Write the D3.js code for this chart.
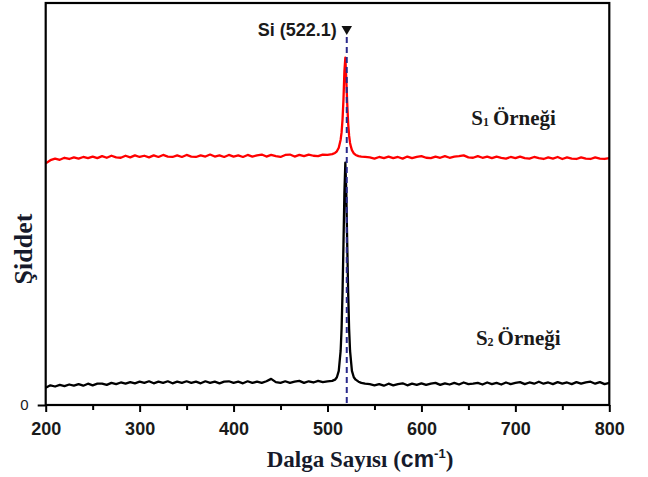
<!DOCTYPE html>
<html>
<head>
<meta charset="utf-8">
<script src="https://cdn.jsdelivr.net/npm/d3@7"></script>
<style>
  body { margin: 0; background: #fff; }
  svg { display: block; }
  .tick text { font-family: "Liberation Sans", Arial, sans-serif; font-weight: bold; font-size: 18px; fill: #1a1a1a; }
</style>
</head>
<body>
<div id="chart"></div>
<script>
'use strict';

// Raman shift (cm-1) sample positions
var wavenumbers = [
    200, 205, 210, 215, 220, 225, 230, 235, 240, 245, 250, 255, 260, 265, 270, 275, 280, 285, 290, 295,
    300, 305, 310, 315, 320, 325, 330, 335, 340, 345, 350, 355, 360, 365, 370, 375, 380, 385, 390, 395,
    400, 405, 410, 415, 420, 425, 430, 435, 440, 445, 450, 455, 460, 465, 470, 475, 480, 485, 490, 495, 500,
    505, 508, 510, 512, 514, 515, 516, 517, 518, 519, 520, 521, 522, 523, 524, 525, 526, 528, 530, 533, 536, 540,
    545, 550, 555, 560, 565, 570, 575, 580, 585, 590, 595, 600, 605, 610, 615, 620, 625, 630, 635, 640,
    645, 650, 655, 660, 665, 670, 675, 680, 685, 690, 695, 700, 705, 710, 715, 720, 725, 730, 735, 740,
    745, 750, 755, 760, 765, 770, 775, 780, 785, 790, 795, 800
];

// S1 sample (red, offset upward)
var s1Values = [
    60.1, 60.9, 61.3, 61.0, 61.5, 61.2, 61.6, 61.3, 61.7, 61.4, 61.8, 61.4, 61.9, 61.5, 62.0, 61.6, 61.5, 62.0, 61.6, 62.1,
    61.7, 62.0, 61.6, 62.1, 61.7, 62.2, 61.8, 61.7, 62.1, 61.7, 62.2, 61.8, 61.7, 62.1, 61.8, 62.3, 61.8, 62.1, 61.7, 62.2,
    61.8, 62.1, 61.7, 62.2, 61.8, 62.1, 62.3, 61.8, 62.2, 61.9, 61.7, 62.2, 62.3, 61.8, 62.2, 61.9, 62.3, 62.0, 61.9, 62.3, 62.2,
    62.4, 62.7, 63.1, 64.0, 66.0, 67.8, 71.0, 76.0, 83.0, 86.4, 81.0, 75.0, 70.0, 67.0, 65.2, 64.2, 63.4, 62.6, 62.2, 61.9, 61.8, 61.7,
    61.6, 61.3, 61.7, 61.4, 61.8, 61.4, 61.7, 61.3, 61.8, 61.4, 61.7, 61.9, 61.5, 61.4, 61.8, 61.5, 61.9, 61.5, 61.8, 61.9,
    62.1, 61.6, 61.5, 61.9, 61.5, 61.8, 61.4, 61.8, 61.5, 61.3, 61.7, 61.4, 61.8, 61.4, 61.3, 61.7, 61.4, 61.2, 61.6, 61.3,
    61.7, 61.2, 61.6, 61.3, 61.2, 61.6, 61.3, 61.2, 61.6, 61.3, 61.2, 61.4
];

// S2 sample (black)
var s2Values = [
    4.3, 4.9, 4.6, 5.0, 4.7, 5.1, 4.8, 5.2, 4.8, 5.3, 4.9, 5.3, 5.3, 5.0, 5.5, 5.2, 5.6, 5.3, 5.7, 5.4,
    5.8, 5.5, 5.9, 5.4, 5.8, 5.5, 5.9, 5.4, 5.8, 5.5, 5.9, 5.5, 5.8, 5.4, 5.9, 5.5, 5.8, 5.4, 5.8, 5.9,
    5.5, 5.8, 5.4, 5.9, 5.5, 5.8, 5.5, 5.9, 6.5, 5.7, 5.5, 5.9, 5.5, 5.8, 6.0, 5.5, 5.9, 5.6, 6.0, 5.7, 5.9,
    6.0, 6.3, 6.9, 8.5, 13.5, 19.0, 28.0, 40.0, 53.0, 60.3, 53.0, 40.0, 28.0, 19.0, 13.5, 11.0, 8.5, 6.9, 6.3, 5.8, 5.5, 5.3,
    5.2, 4.9, 5.2, 4.8, 5.3, 4.9, 5.2, 5.4, 4.9, 5.3, 5.0, 5.4, 5.0, 5.3, 5.5, 5.0, 5.4, 5.1, 5.5, 5.1,
    5.6, 5.2, 5.3, 5.5, 5.1, 5.6, 5.2, 5.5, 5.1, 5.6, 5.2, 5.5, 5.7, 5.2, 5.6, 5.3, 5.8, 5.3, 5.6, 5.2,
    5.7, 5.3, 5.6, 5.2, 5.7, 5.3, 5.6, 5.8, 5.3, 5.7, 5.2, 5.5
];

var majorTicks = [200, 300, 400, 500, 600, 700, 800];
var minorTicks = [250, 350, 450, 550, 650, 750];
var siLinePos = 520.5;   // where the dashed marker sits in the picture
var siLabel = 'Si (522.1)';

var width = 648;
var height = 477;
var margin = { top: 3, right: 38.7, bottom: 72, left: 45.7 };
var innerW = width - margin.left - margin.right;
var innerH = height - margin.top - margin.bottom;

var svg = d3.select('#chart')
    .append('svg')
    .attr('width', width)
    .attr('height', height);

var g = svg.append('g')
    .attr('transform', 'translate(' + margin.left + ',' + margin.top + ')');

var x = d3.scaleLinear().domain([200, 800]).range([0, innerW]);
var y = d3.scaleLinear().domain([0, 100]).range([innerH, 0]);

function series(values) {
    return wavenumbers.map(function(w, i) { return { x: w, y: values[i] }; });
}

var line = d3.line()
    .x(function(d) { return x(d.x); })
    .y(function(d) { return y(d.y); });

g.append('path')
    .datum(series(s2Values))
    .attr('fill', 'none')
    .attr('stroke', '#000')
    .attr('stroke-width', 2.3)
    .attr('stroke-linejoin', 'round')
    .attr('d', line);

g.append('path')
    .datum(series(s1Values))
    .attr('fill', 'none')
    .attr('stroke', '#ff0000')
    .attr('stroke-width', 2.3)
    .attr('stroke-linejoin', 'round')
    .attr('d', line);

// dashed Si reference line + marker
g.append('line')
    .attr('x1', x(siLinePos)).attr('x2', x(siLinePos))
    .attr('y1', 34).attr('y2', innerH)
    .attr('stroke', '#2a2a8c')
    .attr('stroke-width', 2)
    .attr('stroke-dasharray', '6,4');

g.append('path')
    .attr('d', d3.symbol().type(d3.symbolTriangle).size(48))
    .attr('transform', 'translate(' + x(siLinePos) + ',26) rotate(180)')
    .attr('fill', '#111');

g.append('text')
    .attr('x', x(siLinePos) - 10)
    .attr('y', 33)
    .attr('text-anchor', 'end')
    .style('font-family', '"Liberation Sans", Arial, sans-serif')
    .style('font-weight', 'bold')
    .style('font-size', '18px')
    .style('fill', '#1a1a1a')
    .text(siLabel);

// axes
var xAxis = g.append('g')
    .attr('transform', 'translate(0,' + innerH + ')')
    .call(d3.axisBottom(x).tickValues(majorTicks).tickSize(7).tickPadding(10).tickFormat(d3.format('d')));
xAxis.select('.domain').remove();
xAxis.selectAll('.tick line').attr('stroke-width', 2);

var xMinor = g.append('g')
    .attr('transform', 'translate(0,' + innerH + ')')
    .call(d3.axisBottom(x).tickValues(minorTicks).tickSize(5).tickFormat(''));
xMinor.select('.domain').remove();
xMinor.selectAll('.tick line').attr('stroke-width', 2);

var yAxis = g.append('g')
    .call(d3.axisLeft(y).tickValues([0]).tickSize(8).tickPadding(9));
yAxis.select('.domain').remove();
yAxis.selectAll('.tick line').attr('stroke-width', 2);
yAxis.selectAll('.tick text')
    .style('font-weight', 'normal')
    .style('font-size', '15px');

// frame
g.append('rect')
    .attr('width', innerW)
    .attr('height', innerH)
    .attr('fill', 'none')
    .attr('stroke', '#000')
    .attr('stroke-width', 2.2);

// sample labels
var serif = '"Liberation Serif", "Times New Roman", serif';

function sampleLabel(px, py, sub) {
    var t = g.append('text')
        .attr('x', px)
        .attr('y', py)
        .style('font-family', serif)
        .style('font-weight', 'bold')
        .style('font-size', '21px')
        .style('fill', '#1a1a1a');
    t.append('tspan').text('S');
    t.append('tspan').attr('dy', 1).style('font-size', '12px').text(sub);
    t.append('tspan').attr('dy', -1).attr('dx', 4).text('Örneği');
}

sampleLabel(x(653), 122, '1');
sampleLabel(x(658), 342, '2');

// axis titles
var xt = svg.append('text')
    .attr('x', 360)
    .attr('y', 467)
    .attr('text-anchor', 'middle')
    .style('font-family', serif)
    .style('font-weight', 'bold')
    .style('font-size', '23px')
    .style('fill', '#161a2b');
xt.append('tspan').text('Dalga Sayısı (');
xt.append('tspan').style('font-family', '"Liberation Sans", Arial, sans-serif').text('cm');
xt.append('tspan').attr('dy', -9).style('font-family', '"Liberation Sans", Arial, sans-serif').style('font-size', '13px').text('-1');
xt.append('tspan').attr('dy', 9).text(')');

svg.append('text')
    .attr('transform', 'translate(32,249) rotate(-90)')
    .attr('text-anchor', 'middle')
    .style('font-family', serif)
    .style('font-weight', 'bold')
    .style('font-size', '26px')
    .style('fill', '#161a2b')
    .text('Şiddet');
</script>
</body>
</html>
